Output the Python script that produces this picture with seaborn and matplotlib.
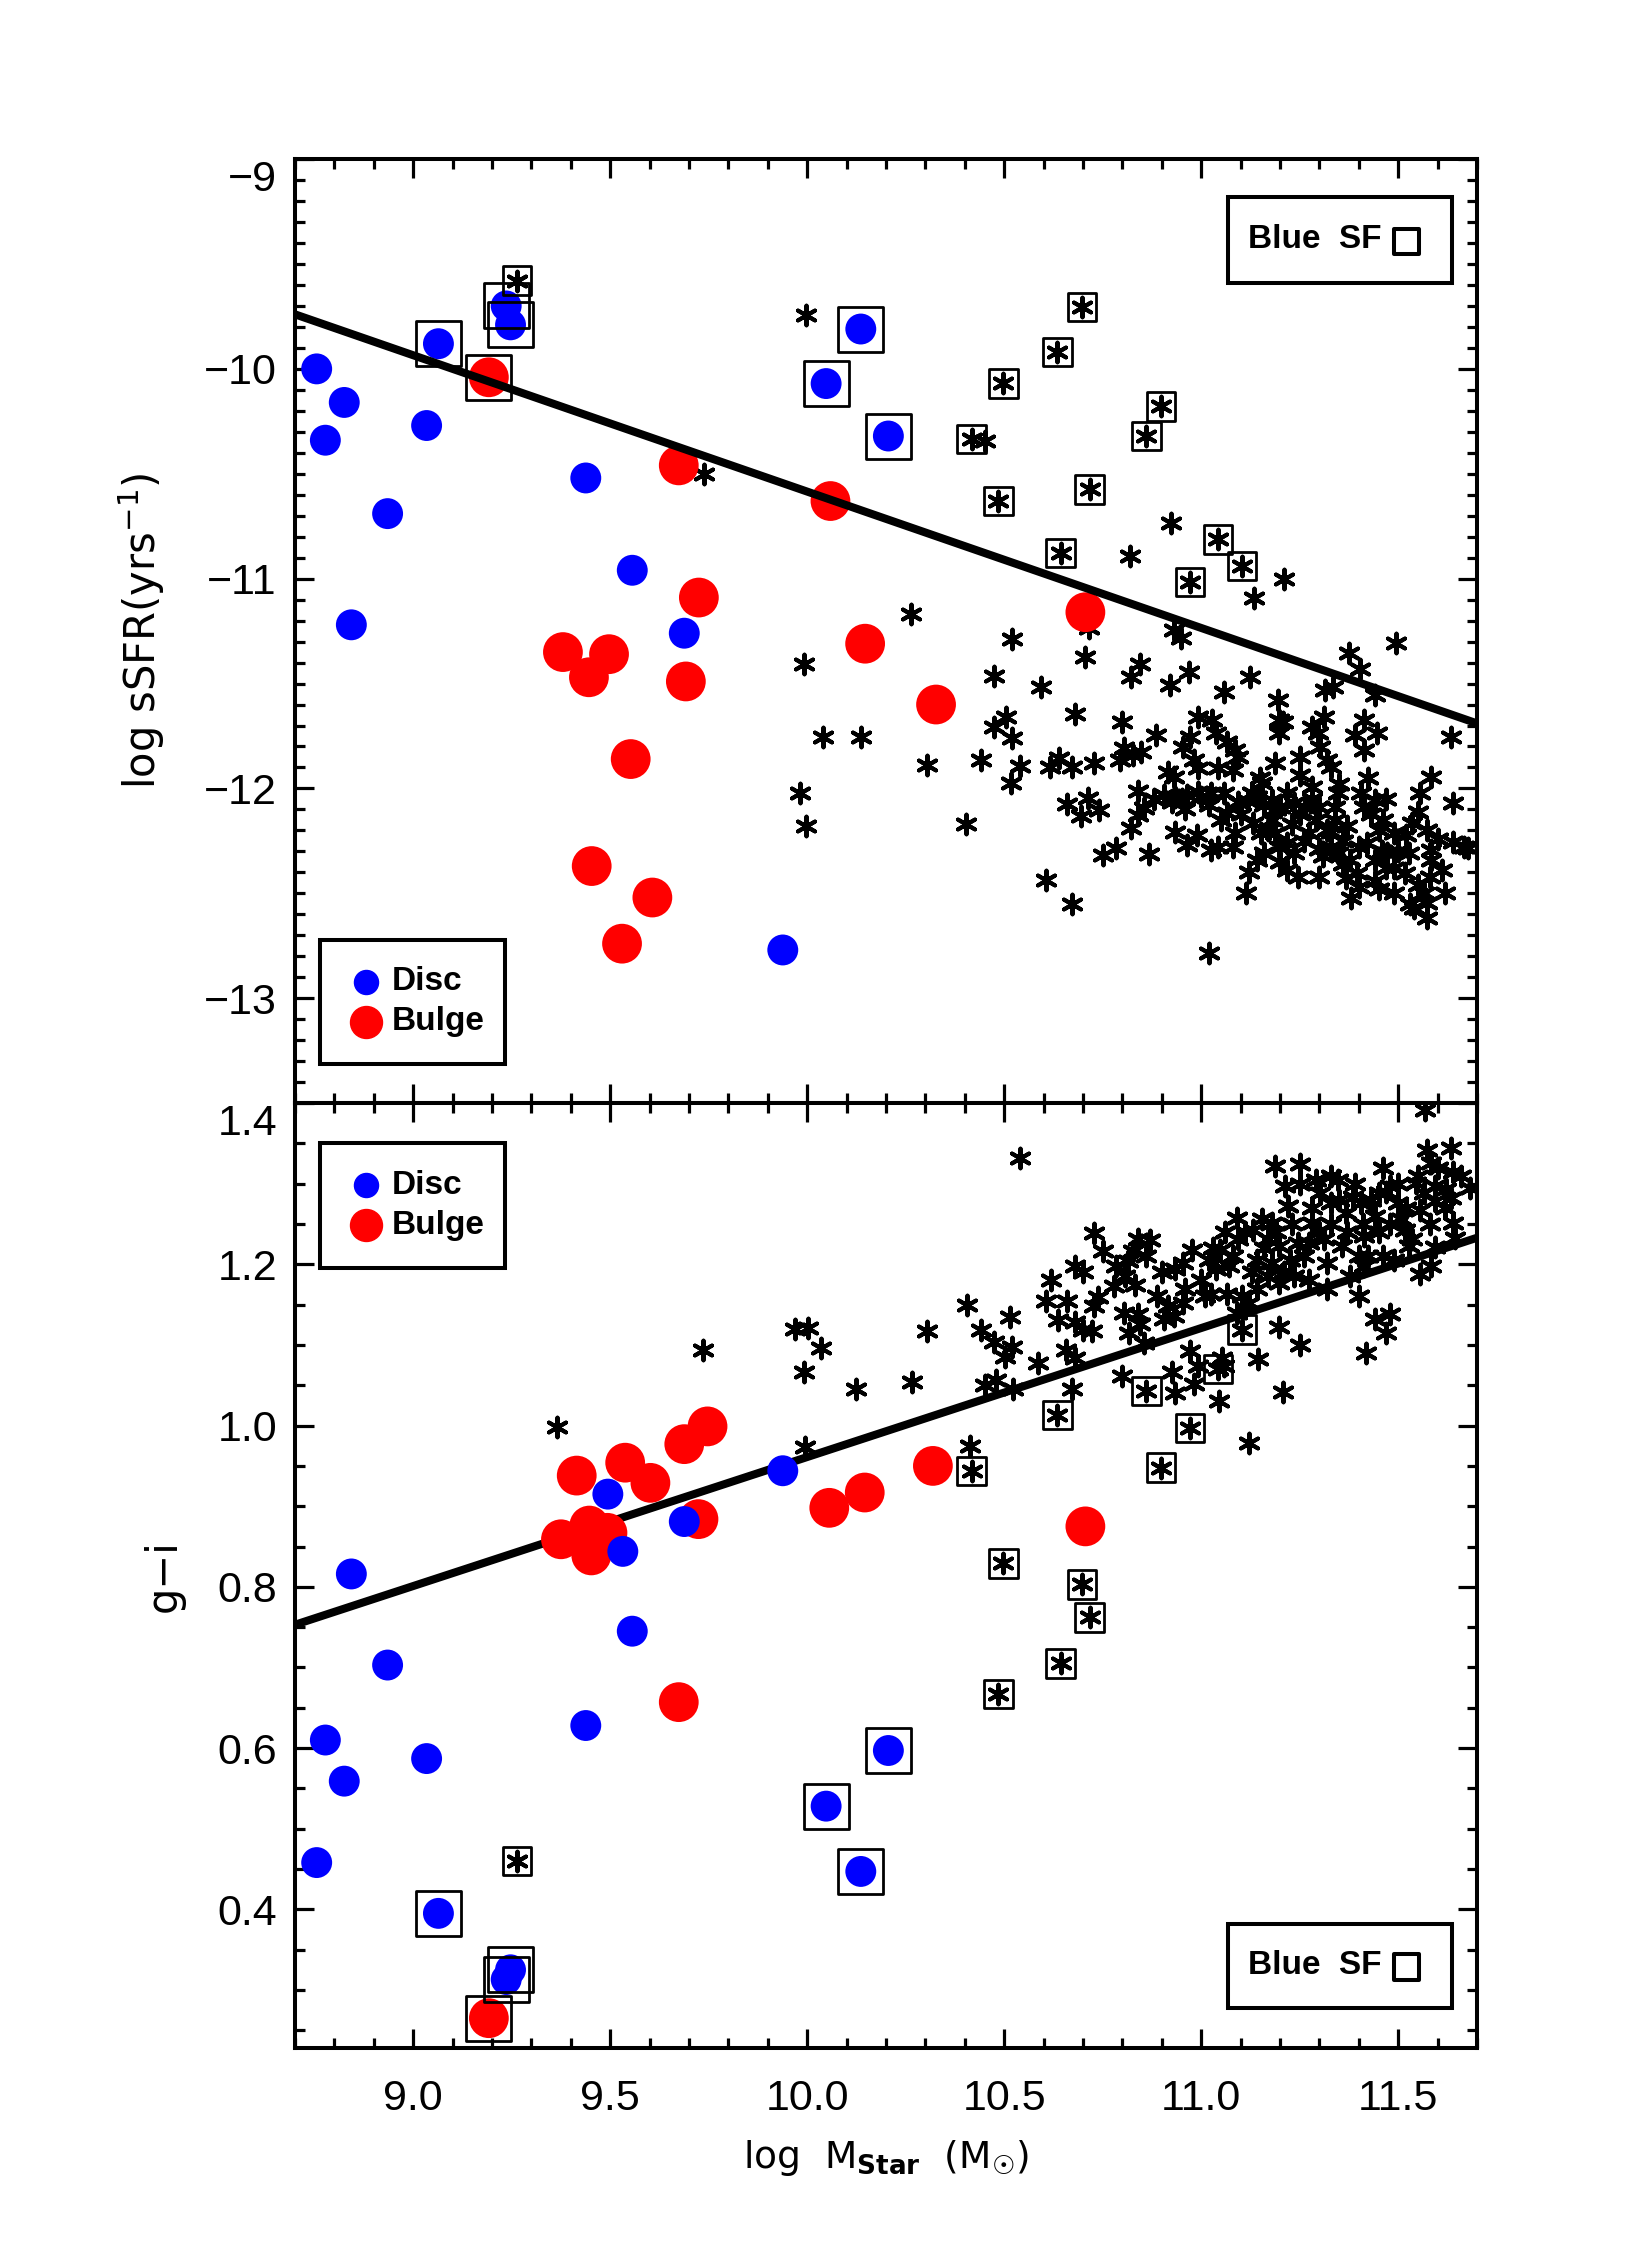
import matplotlib
matplotlib.use("Agg")
import matplotlib.pyplot as plt
import matplotlib.transforms as mtransforms
from matplotlib.patches import Rectangle
from matplotlib.ticker import FixedLocator, MultipleLocator

import seaborn as sns


# ---- disc components (blue) ----
disc_mass_top = [8.755, 8.777, 8.825, 8.843, 8.935, 9.034, 9.064, 9.236, 9.247,
                 9.438, 9.556, 9.688, 9.938, 10.048, 10.136, 10.206]
disc_ssfr = [-10.00, -10.34, -10.16, -11.22, -10.69, -10.27, -9.88, -9.70, -9.79,
             -10.52, -10.96, -11.26, -12.77, -10.07, -9.81, -10.32]
disc_sf_top = [0, 0, 0, 0, 0, 0, 1, 1, 1, 0, 0, 0, 0, 1, 1, 1]

disc_mass_bot = [8.755, 8.777, 8.825, 8.843, 8.935, 9.034, 9.064, 9.236, 9.247,
                 9.438, 9.494, 9.532, 9.556, 9.688, 9.938, 10.048, 10.136, 10.206]
disc_gi = [0.458, 0.610, 0.559, 0.816, 0.703, 0.587, 0.395, 0.313, 0.325,
           0.628, 0.915, 0.844, 0.745, 0.881, 0.944, 0.528, 0.447, 0.597]
disc_sf_bot = [0, 0, 0, 0, 0, 0, 1, 1, 1, 0, 0, 0, 0, 0, 0, 1, 1, 1]

# ---- bulge components (red) ----
bulge_mass_top = [9.192, 9.380, 9.446, 9.497, 9.453, 9.552, 9.607, 9.530, 9.674,
                  9.692, 9.725, 10.059, 10.147, 10.327, 10.706]
bulge_ssfr = [-10.04, -11.35, -11.47, -11.36, -12.37, -11.86, -12.52, -12.74, -10.46,
              -11.49, -11.09, -10.63, -11.31, -11.60, -11.16]
bulge_sf_top = [1, 0, 0, 0, 0, 0, 0, 0, 0, 0, 0, 0, 0, 0, 0]

bulge_mass_bot = [9.192, 9.375, 9.415, 9.447, 9.452, 9.493, 9.538, 9.602, 9.674,
                  9.688, 9.724, 9.747, 10.056, 10.146, 10.319, 10.706]
bulge_gi = [0.265, 0.859, 0.938, 0.876, 0.839, 0.867, 0.954, 0.929, 0.657,
            0.977, 0.884, 0.999, 0.898, 0.917, 0.950, 0.875]
bulge_sf_bot = [1, 0, 0, 0, 0, 0, 0, 0, 0, 0, 0, 0, 0, 0, 0, 0]

# ---- whole galaxies flagged as blue star forming (boxed asterisks) ----
sf_mass = [9.264, 10.417, 10.485, 10.498, 10.635, 10.643, 10.697, 10.717,
           10.861, 10.898, 10.972, 11.042, 11.103]
sf_ssfr = [-9.579, -10.333, -10.629, -10.069, -9.919, -10.877, -9.706, -10.574,
           -10.319, -10.179, -11.017, -10.813, -10.940]
sf_gi = [0.460, 0.944, 0.667, 0.829, 1.013, 0.705, 0.803, 0.762,
         1.043, 0.948, 0.997, 1.070, 1.119]

# ---- remaining galaxies (asterisks) ----
field_mass_top = [
    9.739, 9.998, 9.991, 9.982, 9.997, 10.041, 10.136, 10.264, 10.452, 10.715,
    10.923, 10.818, 11.210, 11.134,
    10.520, 10.704, 10.474, 10.594, 10.504, 10.474, 10.520, 10.304, 10.441, 10.539,
    10.516, 10.403, 10.680, 10.638, 10.615, 10.671, 10.728, 10.793, 10.798, 10.822,
    10.845, 10.920, 10.970, 10.930, 10.948, 11.059, 11.123, 11.196, 11.375, 11.494,
    11.403, 11.315, 11.334, 11.440, 11.635, 11.583, 11.640, 11.678, 11.640, 10.660,
    10.713, 10.695, 10.741, 10.605, 10.671, 10.751, 10.784, 10.867, 10.822, 10.840,
    10.854, 10.840, 10.803, 10.826, 10.848, 10.885, 10.916, 10.930, 10.953, 10.972,
    10.981, 10.991, 10.934, 10.925, 10.963, 10.991, 11.024, 10.991, 11.028, 11.038,
    11.066, 11.085, 11.094, 11.043, 11.080, 11.057, 11.066, 11.094, 11.085, 10.934,
    10.963, 11.024, 11.043, 11.113, 11.019, 11.122, 11.141, 11.160, 11.141, 11.155,
    11.179, 11.188, 11.198, 11.207, 11.198, 11.250, 11.217, 11.235, 11.179, 11.188,
    11.198, 11.217, 11.217, 11.245, 11.282, 11.311, 11.297, 11.301, 11.320, 11.329,
    11.264, 11.292, 11.320, 11.329, 11.348, 11.377, 11.395, 11.400, 11.391, 11.414,
    11.447, 11.414, 11.424, 11.405, 11.414, 11.442, 11.461, 11.489, 11.471, 11.442,
    11.489, 11.518, 11.527, 11.536, 11.555, 11.551, 11.574, 11.583, 11.583, 11.612,
    11.565, 11.574, 11.541, 11.574, 11.367, 11.339, 11.282, 11.348, 11.132, 11.151,
    11.273, 11.235, 11.668,
    10.905, 10.950, 11.000, 11.120, 11.160, 11.190, 11.250, 11.300, 11.330, 11.360,
    11.420, 11.450, 11.470, 11.500, 11.440, 11.360, 11.300,
    10.880, 10.960, 11.020, 11.050, 11.100, 11.130, 11.170, 11.200, 11.230, 11.260,
    11.280, 11.310, 11.340, 11.370, 11.400, 11.430, 11.460, 11.490, 11.520, 11.550,
    11.580, 11.600, 11.620, 11.530, 11.450, 11.380, 11.300, 11.200, 11.080, 10.990,
    11.150, 11.250, 11.350, 11.470]
field_ssfr = [
    -10.503, -9.745, -11.405, -12.020, -12.180, -11.755, -11.755, -11.170, -10.344, -11.235,
    -10.733, -10.893, -11.000, -11.094,
    -11.289, -11.372, -11.464, -11.515, -11.658, -11.706, -11.761, -11.888, -11.865, -11.893,
    -11.976, -12.170, -11.645, -11.857, -11.900, -11.896, -11.877, -11.865, -11.682, -11.467,
    -11.407, -11.507, -11.444, -11.245, -11.285, -11.539, -11.471, -11.579, -11.353, -11.305,
    -11.432, -11.531, -11.515, -11.555, -11.753, -11.944, -12.071, -12.286, -12.254, -12.074,
    -12.047, -12.131, -12.103, -12.436, -12.551, -12.317, -12.286, -12.313, -12.190, -12.011,
    -12.095, -12.127, -11.809, -11.841, -11.825, -11.746, -11.920, -11.944, -11.801, -11.753,
    -11.865, -11.904, -12.039, -12.063, -12.031, -12.015, -12.023, -11.658, -11.674, -11.737,
    -11.777, -11.817, -11.849, -11.904, -11.912, -12.023, -12.119, -12.063, -12.214, -12.206,
    -12.270, -12.294, -12.278, -12.500, -12.786, -12.397, -12.341, -12.310, -12.039, -11.976,
    -12.055, -11.880, -11.674, -11.682, -11.737, -11.936, -12.023, -12.071, -12.151, -12.214,
    -12.278, -12.262, -12.389, -12.421, -11.706, -11.658, -11.737, -11.801, -11.865, -11.896,
    -12.087, -12.151, -12.198, -12.278, -12.310, -12.341, -12.405, -12.468, -11.745, -11.674,
    -11.737, -11.817, -11.952, -12.023, -12.087, -12.055, -12.151, -12.214, -12.310, -12.341,
    -12.500, -12.405, -12.310, -12.167, -12.023, -12.111, -12.198, -12.294, -12.341, -12.389,
    -12.500, -12.548, -12.572, -12.619, -12.429, -12.151, -11.992, -12.023, -12.167, -12.214,
    -12.214, -12.310, -12.278,
    -12.030, -12.050, -12.040, -12.060, -12.080, -12.100, -12.120, -12.090, -12.210, -12.250,
    -12.260, -12.200, -12.380, -12.300, -12.440, -12.360, -12.290,
    -12.050, -12.100, -12.080, -12.150, -12.120, -12.020, -12.200, -12.090, -12.170, -12.250,
    -12.050, -12.320, -12.090, -12.180, -12.280, -12.120, -12.300, -12.380, -12.220, -12.460,
    -12.420, -12.240, -12.500, -12.550, -12.480, -12.520, -12.420, -12.350, -12.280, -12.220,
    -11.950, -11.850, -11.980, -12.050]

field_mass_bot = [
    9.366, 9.735, 9.970, 10.001, 10.035, 9.992, 9.994, 10.124, 10.265, 10.305,
    10.405, 10.442, 10.473, 10.514, 10.519, 10.501, 10.451, 10.478, 10.523, 10.587,
    10.414, 10.539, 10.671, 10.657, 10.680, 10.619, 10.607, 10.659, 10.636, 10.680,
    10.699, 10.723, 10.680, 10.699, 10.729, 10.751, 10.737, 10.727, 10.779, 10.784,
    10.814, 10.840, 10.826, 10.859, 10.807, 10.831, 10.803, 10.840, 10.845, 10.817,
    10.854, 10.798, 10.925, 10.934, 10.981, 10.972, 10.991, 11.044, 11.057, 11.052,
    11.122, 11.144, 11.207, 11.198, 11.250, 11.417, 11.442, 11.480, 11.469, 10.887,
    10.916, 10.930, 10.906, 10.953, 10.934, 10.953, 10.977, 11.010, 11.024, 11.019,
    11.038, 11.047, 11.071, 11.066, 11.090, 11.094, 11.104, 11.122, 11.141, 11.132,
    11.155, 11.170, 11.179, 11.188, 11.250, 11.212, 11.221, 11.198, 11.226, 11.245,
    11.179, 11.141, 11.170, 11.198, 11.235, 11.273, 11.282, 11.292, 11.301, 11.348,
    11.329, 11.311, 11.320, 11.320, 11.358, 11.367, 11.386, 11.405, 11.400, 11.377,
    11.414, 11.424, 11.442, 11.461, 11.452, 11.480, 11.499, 11.508, 11.461, 11.489,
    11.518, 11.536, 11.546, 11.555, 11.565, 11.574, 11.583, 11.593, 11.593, 11.635,
    11.640, 11.621, 11.635, 11.682, 11.640, 11.645, 11.555, 11.583, 11.593, 11.569,
    11.527, 11.273, 11.414,
    11.000, 11.030, 11.060, 11.080, 11.110, 11.130, 11.160, 11.190, 11.210, 11.230,
    11.260, 11.280, 11.300, 11.330, 11.350, 11.370, 11.390, 11.410, 11.430, 11.450,
    11.470, 11.500, 11.520, 11.550, 11.580, 11.600, 11.620, 11.660, 11.250, 11.330,
    10.960, 10.900, 10.870, 11.090, 11.400, 11.480]
field_gi = [
    0.998, 1.094, 1.120, 1.121, 1.096, 1.066, 0.973, 1.046, 1.054, 1.117,
    1.150, 1.118, 1.104, 1.135, 1.098, 1.085, 1.050, 1.056, 1.046, 1.078,
    0.975, 1.332, 1.045, 1.094, 1.084, 1.181, 1.155, 1.154, 1.131, 1.128,
    1.119, 1.117, 1.198, 1.190, 1.239, 1.216, 1.159, 1.148, 1.173, 1.198,
    1.204, 1.231, 1.216, 1.210, 1.185, 1.175, 1.140, 1.138, 1.126, 1.115,
    1.103, 1.062, 1.066, 1.041, 1.051, 1.093, 1.074, 1.030, 1.074, 1.084,
    0.978, 1.082, 1.042, 1.122, 1.100, 1.090, 1.132, 1.138, 1.115, 1.161,
    1.148, 1.136, 1.132, 1.152, 1.194, 1.202, 1.218, 1.161, 1.163, 1.206,
    1.194, 1.218, 1.198, 1.163, 1.258, 1.231, 1.161, 1.152, 1.169, 1.243,
    1.256, 1.231, 1.251, 1.322, 1.324, 1.297, 1.272, 1.223, 1.206, 1.227,
    1.202, 1.206, 1.185, 1.177, 1.185, 1.181, 1.251, 1.305, 1.289, 1.305,
    1.276, 1.231, 1.202, 1.169, 1.223, 1.264, 1.284, 1.276, 1.161, 1.185,
    1.235, 1.210, 1.260, 1.320, 1.289, 1.297, 1.276, 1.256, 1.210, 1.206,
    1.243, 1.231, 1.301, 1.268, 1.289, 1.342, 1.326, 1.297, 1.278, 1.344,
    1.315, 1.293, 1.282, 1.295, 1.251, 1.233, 1.188, 1.198, 1.221, 1.392,
    1.223, 1.227, 1.198,
    1.180, 1.220, 1.240, 1.210, 1.240, 1.190, 1.220, 1.240, 1.190, 1.250,
    1.210, 1.270, 1.240, 1.250, 1.280, 1.240, 1.300, 1.250, 1.280, 1.240,
    1.290, 1.300, 1.270, 1.310, 1.250, 1.320, 1.270, 1.310, 1.300, 1.310,
    1.170, 1.190, 1.230, 1.140, 1.210, 1.250]

# ---- reference relations ----
fit_mass = [8.7, 11.7]
fit_ssfr = [-9.74, -11.69]
fit_gi = [0.753, 1.233]

BLUE = "#0000ff"
RED = "#ff0000"
ASTER = (6, 2, 0)
LABEL_FONT = ["DejaVu Sans"]
KEY_FONT = ["Liberation Sans", "DejaVu Sans"]

sns.set_style("ticks", {"axes.edgecolor": "black", "xtick.color": "black",
                        "ytick.color": "black", "text.color": "black",
                        "axes.labelcolor": "black"})
plt.rcParams['font.family'] = ['Liberation Sans', 'DejaVu Sans']
plt.rcParams['mathtext.default'] = 'regular'

fig = plt.figure(figsize=(16.29, 22.60), dpi=100)
ax1 = fig.add_axes([0.1811, 0.5119, 0.7256, 0.4177])
ax2 = fig.add_axes([0.1811, 0.0938, 0.7256, 0.4181])


def pick(vals, flags):
    return [v for v, f in zip(vals, flags) if f]


def panel(ax, fmass, fy, smass, sy, dmass, dy, dflag, bmass, by, bflag,
          fity, line_z):
    sns.lineplot(x=fit_mass, y=fity, ax=ax, color="black", linewidth=5.8,
                 sort=False, zorder=line_z)
    sns.scatterplot(x=fmass, y=fy, ax=ax, marker=ASTER, color="black",
                    s=200, linewidth=2.9, zorder=2)
    sns.scatterplot(x=smass, y=sy, ax=ax, marker=ASTER, color="black",
                    s=200, linewidth=2.9, zorder=2)
    sns.scatterplot(x=bmass, y=by, ax=ax, color=RED, edgecolor="none",
                    s=820, linewidth=0, zorder=3)
    sns.scatterplot(x=dmass, y=dy, ax=ax, color=BLUE, edgecolor="none",
                    s=495, linewidth=0, zorder=4)
    # boxes flagging blue star forming objects
    sns.scatterplot(x=smass, y=sy, ax=ax, marker="s", color="black",
                    facecolor="none", edgecolor="black", s=420, linewidth=2.0,
                    zorder=5)
    sns.scatterplot(x=pick(dmass, dflag) + pick(bmass, bflag),
                    y=pick(dy, dflag) + pick(by, bflag), ax=ax, marker="s",
                    color="black", facecolor="none", edgecolor="black",
                    s=1050, linewidth=2.0, zorder=5)


panel(ax1, field_mass_top, field_ssfr, sf_mass, sf_ssfr,
      disc_mass_top, disc_ssfr, disc_sf_top,
      bulge_mass_top, bulge_ssfr, bulge_sf_top, fit_ssfr, 6)
panel(ax2, field_mass_bot, field_gi, sf_mass, sf_gi,
      disc_mass_bot, disc_gi, disc_sf_bot,
      bulge_mass_bot, bulge_gi, bulge_sf_bot, fit_gi, 1.5)


def key_box(ax, x0, y0, x1, y1):
    ax.add_patch(Rectangle((x0, y0), x1 - x0, y1 - y0, transform=ax.transAxes,
                           fill=False, edgecolor="black", linewidth=2.9,
                           zorder=7, clip_on=False))


def comp_key(ax, y0, y1, yb, yr):
    key_box(ax, 0.0212, y0, 0.1777, y1)
    ax.scatter([0.0598], [yb], s=300, color=BLUE, transform=ax.transAxes,
               zorder=8, clip_on=False)
    ax.scatter([0.0598], [yr], s=530, color=RED, transform=ax.transAxes,
               zorder=8, clip_on=False)
    ax.text(0.0818, yb, "Disc", transform=ax.transAxes, fontsize=24,
            fontweight="bold", family=KEY_FONT, va="center", ha="left",
            zorder=8)
    ax.text(0.0818, yr, "Bulge", transform=ax.transAxes, fontsize=24,
            fontweight="bold", family=KEY_FONT, va="center", ha="left",
            zorder=8)


def sf_key(ax, y0, y1, yt):
    key_box(ax, 0.7890, y0, 0.9790, y1)
    ax.text(0.8063, yt, "Blue  SF", transform=ax.transAxes, fontsize=24,
            fontweight="bold", family=KEY_FONT, va="center", ha="left",
            zorder=8)
    ax.scatter([0.9401], [yt - 0.002], marker="s", s=330, facecolor="none",
               edgecolor="black", linewidth=2.9, transform=ax.transAxes,
               zorder=8, clip_on=False)


comp_key(ax1, 0.0413, 0.1727, 0.1285, 0.0861)
sf_key(ax1, 0.8686, 0.9597, 0.9150)
comp_key(ax2, 0.8254, 0.9577, 0.9132, 0.8709)
sf_key(ax2, 0.0423, 0.1312, 0.0878)

# axes, ticks and labels
for ax in (ax1, ax2):
    ax.set_xlim(8.7, 11.7)
    ax.xaxis.set_major_locator(FixedLocator([9.0, 9.5, 10.0, 10.5, 11.0, 11.5]))
    ax.xaxis.set_minor_locator(MultipleLocator(0.1))
    ax.tick_params(which="both", direction="in", top=True, right=True,
                   width=2.3, labelsize=31)
    ax.tick_params(which="major", length=14, pad=13)
    ax.tick_params(which="minor", length=7.2)
    ax.tick_params(axis="x", which="major", pad=22)
    for sp in ax.spines.values():
        sp.set_linewidth(2.9)
        sp.set_zorder(10)

ax1.set_ylim(-13.5, -9.0)
ax1.yaxis.set_major_locator(FixedLocator([-13, -12, -11, -10, -9]))
ax1.yaxis.set_minor_locator(MultipleLocator(0.1))
ax1.tick_params(labelbottom=False)

ax2.set_ylim(0.228, 1.4)
ax2.yaxis.set_major_locator(FixedLocator([0.4, 0.6, 0.8, 1.0, 1.2, 1.4]))
ax2.yaxis.set_minor_locator(MultipleLocator(0.05))

ax1.set_xlabel("")
ax1.set_ylabel(r"log sSFR(yrs$^{-1}$)", fontsize=30, family=LABEL_FONT)
ax2.set_ylabel("g\u2212i", fontsize=30, family=LABEL_FONT)
ax2.set_xlabel(r"log  M$_{\mathbf{Star}}$  (M$_{" + "\u2609" + r"}$)",
               fontsize=27, family=LABEL_FONT)
ax1.yaxis.set_label_coords(-0.108, 0.5)
ax2.yaxis.set_label_coords(-0.093, 0.5)
ax2.xaxis.set_label_coords(0.5, -0.095)

# the top tick label of each panel sits a little below its tick
fig.canvas.draw()
shift = mtransforms.ScaledTranslation(0, -16 / fig.dpi, fig.dpi_scale_trans)
for ax in (ax1, ax2):
    lab = ax.yaxis.get_major_ticks()[-1].label1
    lab.set_transform(lab.get_transform() + shift)

fig.savefig("out.png", dpi=100)
